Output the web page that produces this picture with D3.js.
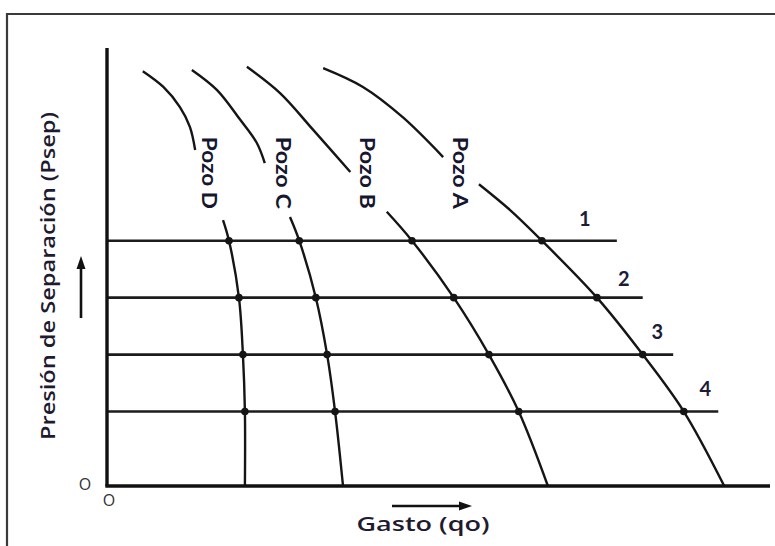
<!DOCTYPE html>
<html>
<head>
<meta charset="utf-8">
<script src="https://cdn.jsdelivr.net/npm/d3@7"></script>
<style>
  html, body { margin: 0; padding: 0; background: #fff; }
  svg { display: block; }
</style>
</head>
<body>
<svg id="chart" width="775" height="546"></svg>
<script>
// ---------------- data ----------------
const wells = ["Pozo D", "Pozo C", "Pozo B", "Pozo A"];
const levelNames = ["1", "2", "3", "4"];
// separator pressure levels (Psep, arbitrary units 0-100)
const levels = [56, 43, 30, 17];
// qo at which each pressure line ends
const levelEnds = [76.9, 80.8, 85.4, 92.2];

// upper visible part of each well curve [qo, Psep]
const upperD = [[5.4, 94.7], [8.5, 91.1], [11.0, 86.5], [12.5, 82.0], [13.3, 76.7]];
const upperC = [[12.8, 95.0], [16.6, 90.4], [20.1, 83.6], [22.6, 78.3], [23.8, 73.7]];
const upperB = [[21.1, 95.7], [26.1, 89.7], [31.1, 81.3], [36.7, 71.7]];
const upperA = [[32.6, 95.4], [38.6, 91.1], [44.6, 84.2], [50.7, 75.1]];

// points where the lower part of each curve resumes below its label
const resumeD = [[17.5, 60.7]];
const resumeC = [[27.6, 61.4]];
const resumeB = [[42.2, 62.6]];
const resumeA = [[56.1, 68.9], [60.8, 63.0]];

// qo of each well at pressure levels 1..4
const crossD = [18.4, 19.9, 20.5, 20.8];
const crossC = [29.0, 31.5, 33.2, 34.4];
const crossB = [46.0, 52.3, 57.6, 62.1];
const crossA = [65.6, 73.9, 80.8, 87.0];

// qo at Psep = 0
const zeroQo = [20.8, 35.6, 66.5, 93.1];

// ---------------- layout ----------------
const svg = d3.select("#chart");
const x = d3.scaleLinear().domain([0, 100]).range([107, 770]);
const y = d3.scaleLinear().domain([0, 100]).range([486, 48]);

const uppers = [upperD, upperC, upperB, upperA];
const resumes = [resumeD, resumeC, resumeB, resumeA];
const crosses = [crossD, crossC, crossB, crossA];

// frame
svg.append("path")
  .attr("d", "M7,546 L7,14 L775,14")
  .attr("fill", "none").attr("stroke", "#3a3a3a").attr("stroke-width", 2.2);

const line = d3.line().x(d => x(d[0])).y(d => y(d[1])).curve(d3.curveCatmullRom.alpha(0.5));

// pressure lines
svg.append("g").selectAll("line").data(levels).join("line")
  .attr("x1", x(0)).attr("x2", (d, i) => x(levelEnds[i]))
  .attr("y1", d => y(d)).attr("y2", d => y(d))
  .attr("stroke", "#1c1c1c").attr("stroke-width", 2.6);

// level numbers
const numDx = [-32, -19, -16, -13];
const numDy = [-23, -20, -24, -24];
svg.append("g").selectAll("text").data(levelNames).join("text")
  .attr("x", (d, i) => x(levelEnds[i]) + numDx[i])
  .attr("y", (d, i) => y(levels[i]) + numDy[i])
  .attr("text-anchor", "middle").attr("dominant-baseline", "central")
  .attr("font-family", "Lato, 'Open Sans', sans-serif").attr("font-weight", "bold")
  .attr("font-size", 20).attr("fill", "#1c1c38")
  .text(d => d);

// well curves
const curveG = svg.append("g").attr("fill", "none").attr("stroke", "#151515").attr("stroke-width", 2.4);
wells.forEach((w, i) => {
  curveG.append("path").attr("d", line(uppers[i]));
  const lower = resumes[i].concat(levels.map((lv, k) => [crosses[i][k], lv]), [[zeroQo[i], 0]]);
  curveG.append("path").attr("d", line(lower));
});

// intersection dots
const dots = [];
wells.forEach((w, i) => levels.forEach((lv, k) => dots.push([crosses[i][k], lv])));
svg.append("g").selectAll("circle").data(dots).join("circle")
  .attr("cx", d => x(d[0])).attr("cy", d => y(d[1])).attr("r", 3.8)
  .attr("fill", "#151515");

// well labels (rotated, reading downward)
const labelQo = [15.6, 26.7, 39.4, 53.4];
const labelP = 71.5;
svg.append("g").selectAll("text").data(wells).join("text")
  .attr("transform", (d, i) => `translate(${x(labelQo[i])},${y(labelP)}) rotate(90)`)
  .attr("text-anchor", "middle").attr("dominant-baseline", "central")
  .attr("font-family", "Lato, 'Open Sans', sans-serif").attr("font-weight", "bold")
  .attr("font-size", 20).attr("fill", "#161630")
  .attr("textLength", 72).attr("lengthAdjust", "spacingAndGlyphs")
  .text(d => d);

// axes
svg.append("line")
  .attr("x1", x(0)).attr("x2", x(0)).attr("y1", y(100)).attr("y2", y(0))
  .attr("stroke", "#111").attr("stroke-width", 3.4);
svg.append("line")
  .attr("x1", x(0) - 1.7).attr("x2", x(100)).attr("y1", y(0)).attr("y2", y(0))
  .attr("stroke", "#111").attr("stroke-width", 3.4);

// origin marks
svg.append("text").attr("x", 85).attr("y", 484)
  .attr("text-anchor", "middle").attr("dominant-baseline", "central")
  .attr("font-family", "'Open Sans', sans-serif").attr("font-size", 16).attr("fill", "#333")
  .text("O");
svg.append("text").attr("x", 109).attr("y", 500)
  .attr("text-anchor", "middle").attr("dominant-baseline", "central")
  .attr("font-family", "'Open Sans', sans-serif").attr("font-size", 16).attr("fill", "#333")
  .text("O");

// axis titles
svg.append("text")
  .attr("transform", "translate(47,276) rotate(-90)")
  .attr("text-anchor", "middle").attr("dominant-baseline", "central")
  .attr("font-family", "'Open Sans', sans-serif").attr("font-weight", 600)
  .attr("font-size", 20).attr("fill", "#1e1a30")
  .attr("textLength", 328).attr("lengthAdjust", "spacingAndGlyphs")
  .text("Presión de Separación (Psep)");

svg.append("text")
  .attr("x", 423).attr("y", 531)
  .attr("text-anchor", "middle")
  .attr("font-family", "'Open Sans', sans-serif").attr("font-weight", 600)
  .attr("font-size", 20).attr("fill", "#1e1a30")
  .attr("textLength", 133).attr("lengthAdjust", "spacingAndGlyphs")
  .text("Gasto (qo)");

// direction arrows
const arrows = svg.append("g").attr("fill", "#111").attr("stroke", "#111");
arrows.append("line").attr("x1", 81).attr("y1", 318).attr("x2", 81).attr("y2", 266)
  .attr("stroke-width", 2.6);
arrows.append("path").attr("d", "M81,256 L76.5,269 L85.5,269 Z").attr("stroke", "none");
arrows.append("line").attr("x1", 392).attr("y1", 506).attr("x2", 462).attr("y2", 506)
  .attr("stroke-width", 2.6);
arrows.append("path").attr("d", "M472,506 L459,501.5 L459,510.5 Z").attr("stroke", "none");
</script>
</body>
</html>
